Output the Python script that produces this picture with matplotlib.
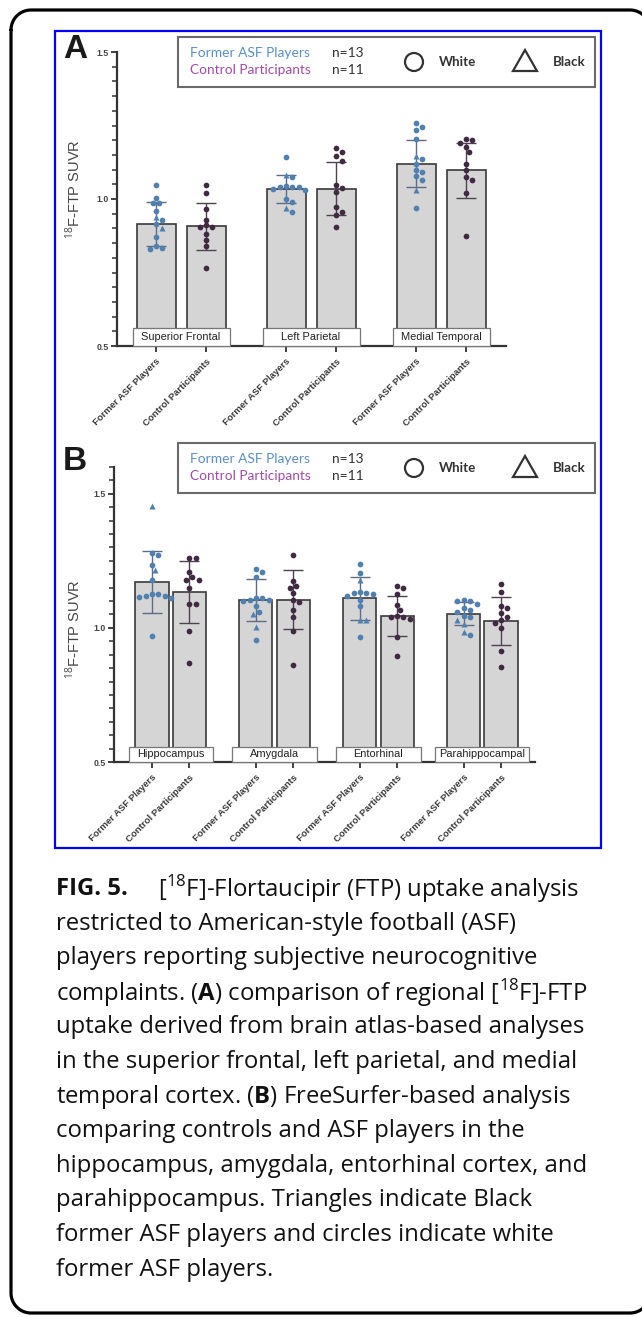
import numpy as np
import matplotlib
matplotlib.use("Agg")
import matplotlib.pyplot as plt
from matplotlib.patches import Rectangle, Circle, Polygon
from matplotlib.ticker import MultipleLocator

plt.rcParams["mathtext.fontset"] = "custom"
plt.rcParams["mathtext.rm"] = "Open Sans"
plt.rcParams["mathtext.bf"] = "Open Sans:bold"

# --- data ---
group_labels = ["Former ASF Players", "Control Participants"]

regions_a = ["Superior Frontal", "Left Parietal", "Medial Temporal"]
mean_asf_a = [0.915, 1.035, 1.120]
sd_asf_a = [0.075, 0.047, 0.080]
mean_ctl_a = [0.908, 1.035, 1.097]
sd_ctl_a = [0.080, 0.090, 0.095]
asf_white_a = [
    [1.048, 1.005, 0.988, 0.985, 0.96, 0.93, 0.915, 0.87, 0.84, 0.835, 0.83],
    [1.142, 1.075, 1.045, 1.042, 1.04, 1.04, 1.035, 1.03, 1.0, 0.99, 0.957],
    [1.258, 1.245, 1.235, 1.205, 1.135, 1.12, 1.10, 1.093, 1.078, 1.065, 0.968],
]
asf_black_a = [
    [0.94, 0.90],
    [1.08, 0.97],
    [1.146, 1.03],
]
ctl_a = [
    [1.048, 1.02, 0.965, 0.93, 0.91, 0.905, 0.905, 0.88, 0.86, 0.84, 0.765],
    [1.172, 1.16, 1.145, 1.13, 1.048, 1.036, 1.025, 0.972, 0.957, 0.945, 0.905],
    [1.205, 1.2, 1.19, 1.178, 1.16, 1.12, 1.1, 1.075, 1.065, 1.02, 0.874],
]

regions_b = ["Hippocampus", "Amygdala", "Entorhinal", "Parahippocampal"]
mean_asf_b = [1.170, 1.105, 1.110, 1.053]
sd_asf_b = [0.115, 0.078, 0.080, 0.042]
mean_ctl_b = [1.135, 1.105, 1.045, 1.025]
sd_ctl_b = [0.115, 0.110, 0.075, 0.090]
asf_white_b = [
    [1.28, 1.27, 1.235, 1.18, 1.125, 1.125, 1.12, 1.12, 1.115, 1.11, 0.97],
    [1.22, 1.21, 1.19, 1.11, 1.11, 1.105, 1.105, 1.1, 1.08, 1.06, 0.955],
    [1.24, 1.205, 1.135, 1.13, 1.13, 1.125, 1.12, 1.105, 1.08, 0.965],
    [1.105, 1.1, 1.1, 1.09, 1.075, 1.065, 1.06, 1.045, 1.04, 0.975],
]
asf_black_b = [
    [1.453, 1.215],
    [1.05, 1.005],
    [1.18, 1.03, 1.03],
    [1.03, 1.015, 0.985],
]
ctl_b = [
    [1.26, 1.26, 1.21, 1.19, 1.18, 1.18, 1.15, 1.09, 1.09, 0.99, 0.87],
    [1.27, 1.175, 1.155, 1.15, 1.13, 1.105, 1.095, 1.065, 1.04, 0.99, 0.86],
    [1.155, 1.15, 1.125, 1.085, 1.065, 1.045, 1.04, 1.04, 1.035, 0.965, 0.895],
    [1.165, 1.135, 1.08, 1.075, 1.055, 1.04, 1.03, 1.02, 1.0, 0.915, 0.855],
]

caption_first = r"[$^{18}$F]-Flortaucipir (FTP) uptake analysis"
caption_lines = [
    "restricted to American-style football (ASF)",
    "players reporting subjective neurocognitive",
    r"complaints. ($\mathbf{A}$) comparison of regional [$^{18}$F]-FTP",
    "uptake derived from brain atlas-based analyses",
    "in the superior frontal, left parietal, and medial",
    r"temporal cortex. ($\mathbf{B}$) FreeSurfer-based analysis",
    "comparing controls and ASF players in the",
    "hippocampus, amygdala, entorhinal cortex, and",
    "parahippocampus. Triangles indicate Black",
    "former ASF players and circles indicate white",
    "former ASF players.",
]

# --- styling ---
W, H = 642, 1317
C_ASF = "#5080b0"
C_CTL = "#402a42"
BAR_FILL = "#d5d5d5"
AX_COL = "#333333"
ARIAL = "Liberation Sans"
CAP_FS = 17.2

fig = plt.figure(figsize=(W / 100, H / 100), dpi=100)
renderer = fig.canvas.get_renderer()


def px_axes(x0, y0, x1, y1):
    return fig.add_axes([x0 / W, 1 - y1 / H, (x1 - x0) / W, (y1 - y0) / H])


def swarm(vals, step, diam):
    # crude beeswarm in pixel space, returns x offsets in pixels
    vals = np.asarray(vals)
    order = np.argsort(-vals)
    offs = np.zeros(len(vals))
    placed = []
    cands = [0.0]
    for k in range(1, 10):
        cands += [k * 0.5, -k * 0.5]
    for i in order:
        y = vals[i]
        for c in cands:
            x = c * step
            if all((x - px) ** 2 + (y - py) ** 2 >= diam ** 2 for px, py in placed):
                break
        offs[i] = x
        placed.append((x, y))
    return offs


def draw_panel(ax, regions, m_f, s_f, m_c, s_c, white_f, black_f, ctl,
               gap, ppx, ppy, x_left_px, x_right_px, ytop, bar_w, box_h_px):
    pos_f = np.arange(len(regions)) * gap
    pos_c = pos_f + 1
    ax.set_xlim(-x_left_px / ppx, x_right_px / ppx)
    ax.set_ylim(0.5, ytop)

    ax.bar(pos_f, m_f, bar_w, color=BAR_FILL, edgecolor="#3a3a3a", lw=1.2, zorder=1)
    ax.bar(pos_c, m_c, bar_w, color=BAR_FILL, edgecolor="#3a3a3a", lw=1.2, zorder=1)

    ax.errorbar(pos_f, m_f, yerr=s_f, fmt="none", ecolor="#5d6b84", elinewidth=1.0,
                capsize=7, capthick=1.0, zorder=4)
    ax.errorbar(pos_c, m_c, yerr=s_c, fmt="none", ecolor="#4d434e", elinewidth=1.0,
                capsize=7, capthick=1.0, zorder=4)

    for i in range(len(regions)):
        vals = list(white_f[i]) + list(black_f[i])
        off = swarm(np.array(vals) * ppy, 6.4, 5.8) / ppx
        nw = len(white_f[i])
        ax.scatter(pos_f[i] + off[:nw], white_f[i], s=17, color=C_ASF, lw=0, zorder=5)
        ax.scatter(pos_f[i] + off[nw:], black_f[i], s=19, marker="^", color=C_ASF,
                   lw=0, zorder=5)
        off = swarm(np.array(ctl[i]) * ppy, 6.4, 5.8) / ppx
        ax.scatter(pos_c[i] + off, ctl[i], s=17, color=C_CTL, lw=0, zorder=5)

        # region name box sitting on the axis
        xc = (pos_f[i] + pos_c[i]) / 2
        t = ax.text(xc, 0.5 + box_h_px / 2 / ppy, regions[i], ha="center", va="center",
                    fontsize=7.9, family=ARIAL, color="#222222", zorder=7)
        tw = t.get_window_extent(renderer).width / ppx
        half = max(0.5 + 23.5 / ppx, tw / 2 + 4 / ppx)
        ax.add_patch(Rectangle((xc - half, 0.5), 2 * half, box_h_px / ppy, fc="white",
                               ec="#777777", lw=0.9, zorder=6, clip_on=False))

    ticks = np.ravel(np.column_stack([pos_f, pos_c]))
    ax.set_xticks(ticks)
    ax.set_xticklabels(group_labels * len(regions), rotation=45, ha="right", va="top",
                       rotation_mode="anchor", fontsize=6.8, fontweight="bold",
                       color="#3a3a3a", family=ARIAL)
    ax.set_yticks([0.5, 1.0, 1.5])
    ax.set_yticklabels(["0.5", "1.0", "1.5"], fontsize=6.3, fontweight="bold",
                       color="#444444", family=ARIAL)
    ax.yaxis.set_minor_locator(MultipleLocator(0.05))
    ax.tick_params(axis="both", which="major", length=4, width=1.3, color=AX_COL, pad=2)
    ax.tick_params(axis="y", which="minor", length=3.5, width=1.1, color=AX_COL)
    ax.tick_params(axis="x", pad=4)
    for side in ["top", "right"]:
        ax.spines[side].set_visible(False)
    for side in ["left", "bottom"]:
        ax.spines[side].set_color(AX_COL)
        ax.spines[side].set_linewidth(1.6)
    ax.patch.set_alpha(0)


# panel A: 0.5 at y=346, 1.5 at y=52, first tick at x=156, 50 px per category
ax_a = px_axes(117, 52, 506, 346)
draw_panel(ax_a, regions_a, mean_asf_a, sd_asf_a, mean_ctl_a, sd_ctl_a,
           asf_white_a, asf_black_a, ctl_a, gap=2.6, ppx=50, ppy=294,
           x_left_px=39, x_right_px=350, ytop=1.5, bar_w=0.78, box_h_px=18)

# panel B: 0.5 at y=762, 1.0 at y=628, first tick at x=152
ax_b = px_axes(114, 467, 535, 762)
draw_panel(ax_b, regions_b, mean_asf_b, sd_asf_b, mean_ctl_b, sd_ctl_b,
           asf_white_b, asf_black_b, ctl_b, gap=2.8, ppx=37.13, ppy=268,
           x_left_px=38, x_right_px=383, ytop=1.6, bar_w=0.89, box_h_px=15)

# --- overlay: frame, blue box, legends, labels, caption ---
ov = fig.add_axes([0, 0, 1, 1])
ov.set_xlim(0, W)
ov.set_ylim(H, 0)
ov.axis("off")
ov.set_zorder(10)

# page frame as one path; the right side runs just outside the picture
r, fl, ft, fr, fb = 20, 11, 10, 650, 1313
corners = [(fl + r, ft + r, 180, 270), (fr - r, ft + r, 270, 360),
           (fr - r, fb - r, 0, 90), (fl + r, fb - r, 90, 180)]
fx, fy = [], []
for cx, cy, a0, a1 in corners:
    ang = np.radians(np.linspace(a0, a1, 20))
    fx += list(cx + r * np.cos(ang))
    fy += list(cy + r * np.sin(ang))
fx.append(fx[0])
fy.append(fy[0])
ov.plot(fx, fy, color="black", lw=2.3, solid_capstyle="round")

ov.add_patch(Rectangle((55, 31), 546, 817, fill=False, ec="#0000ff", lw=1.6))

for lab, ly, ycen in [("A", 50, 189), ("B", 461, 629)]:
    ov.text(75, ly, lab, ha="center", va="center", fontsize=24, fontweight="bold",
            family=ARIAL, color="#1a1a1a")
    ov.text(73, ycen, r"$^{18}$F-FTP SUVR", rotation=90, ha="center", va="center",
            fontsize=10.5, family=ARIAL, color="#444444")


def legend_box(top):
    ov.add_patch(Rectangle((178, top), 417, 50, fc="white", ec="#6a6a6a", lw=1.5))
    ov.text(190, top + 16, group_labels[0], fontsize=9.9, family="Lato",
            color="#5a8fc8", va="center")
    ov.text(190, top + 33, group_labels[1], fontsize=9.9, family="Lato",
            color="#a24ca6", va="center")
    ov.text(332, top + 16, "n=%d" % 13, fontsize=9.9, family="Lato", color="#333333",
            va="center")
    ov.text(332, top + 33, "n=%d" % 11, fontsize=9.9, family="Lato", color="#333333",
            va="center")
    ov.add_patch(Circle((414, top + 25), 9, fill=False, ec="#333333", lw=1.6))
    ov.text(439, top + 25, "White", fontsize=9.6, family="Lato", color="#333333",
            va="center", fontweight="bold")
    ov.add_patch(Polygon([(513, top + 34), (537, top + 34), (525, top + 13)], closed=True,
                         fill=False, ec="#333333", lw=1.6))
    ov.text(553, top + 25, "Black", fontsize=9.6, family="Lato", color="#333333",
            va="center", fontweight="bold")


legend_box(37)
legend_box(443)

cap_y0, cap_dy = 889, 34.6
ov.text(56, cap_y0, "FIG. 5.", fontsize=CAP_FS, family="Open Sans", fontweight="bold",
        color="#111111", va="center")
ov.text(158, cap_y0, caption_first, fontsize=CAP_FS, family="Open Sans", color="#111111",
        va="center")
for k, line in enumerate(caption_lines):
    ov.text(56, cap_y0 + (k + 1) * cap_dy, line, fontsize=CAP_FS, family="Open Sans",
            color="#111111", va="center")

fig.savefig("out.png", dpi=100)
